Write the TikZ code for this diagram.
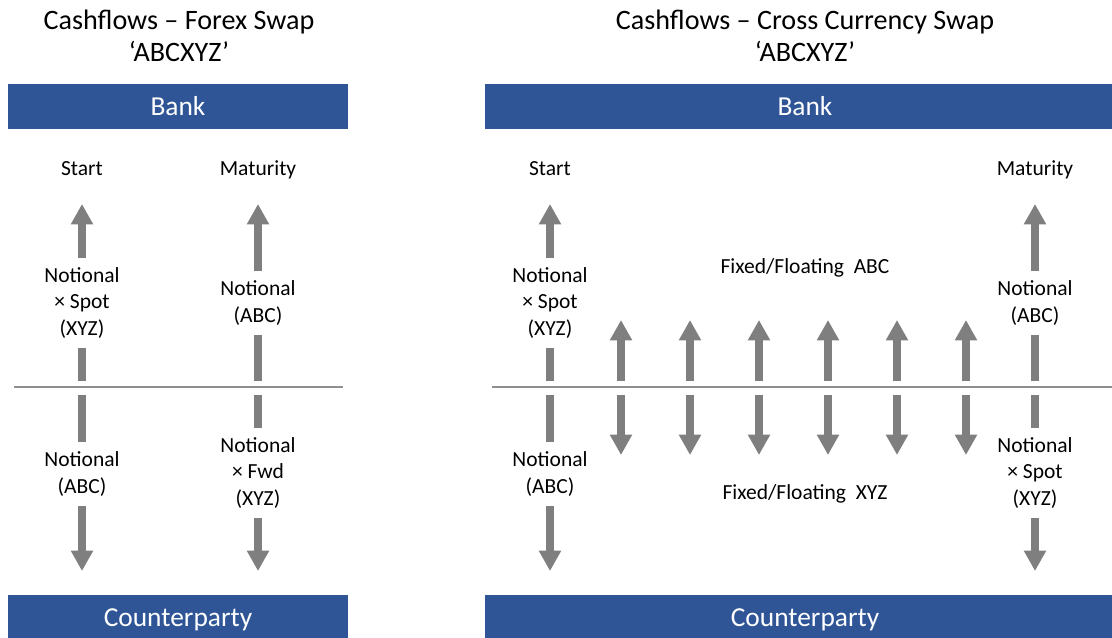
\documentclass[tikz,border=0pt]{standalone}
\usepackage{fontspec}
\setmainfont{Carlito}
\usetikzlibrary{arrows.meta}

\definecolor{barblue}{HTML}{2F5597}
\definecolor{flowgray}{HTML}{7F7F7F}
\definecolor{axisgray}{HTML}{8F8F8F}

\tikzset{
  bartext/.style={text=white, font=\fontsize{19.5}{23}\selectfont},
  title/.style={align=center, font=\fontsize{20}{22.8}\selectfont},
  lbl/.style={align=center, inner xsep=0pt, inner ysep=6.5pt, font=\fontsize{15.3}{18.8}\selectfont},
  datelbl/.style={lbl, anchor=base},
  axis/.style={axisgray, line width=1.4pt},
  shaft/.style={flowgray, line width=5pt},
  flow/.style={shaft, -{Triangle[length=14.5pt, width=15pt]}},
}

\begin{document}
\begin{tikzpicture}[x=0.025cm, y=-0.025cm]

  \useasboundingbox (0,0) rectangle (1112,638);

  % ---- forex swap ----
  \node[title] (titleL) at (179,36) {Cashflows – Forex Swap\\‘ABCXYZ’};

  \fill[barblue] (8,84) rectangle (348,129);
  \fill[barblue] (8,595) rectangle (348,638);
  \node[bartext] (bankL) at (178,106) {Bank};
  \node[bartext] (cptyL) at (178,620) {Counterparty};

  \draw[axis] (14,387) -- (343,387);

  \node[datelbl] (startL) at (82,175) {Start};
  \node[datelbl] (matL) at (258,175) {Maturity};

  % start: up to the bank, down to the counterparty
  \coordinate (sLu) at (82,381);  \coordinate (sLut) at (82,204);
  \coordinate (sLd) at (82,395);  \coordinate (sLdt) at (82,571);
  \node[lbl] (sLup) at (82,303) {Notional\\× Spot\\(XYZ)};
  \node[lbl] (sLdn) at (82,474) {Notional\\(ABC)};
  \draw[shaft] (sLu) -- (sLup);
  \draw[flow] (sLup) -- (sLut);
  \draw[shaft] (sLd) -- (sLdn);
  \draw[flow] (sLdn) -- (sLdt);

  % maturity
  \coordinate (mLu) at (258,381);  \coordinate (mLut) at (258,204);
  \coordinate (mLd) at (258,395);  \coordinate (mLdt) at (258,571);
  \node[lbl] (mLup) at (258,303) {Notional\\(ABC)};
  \node[lbl] (mLdn) at (258,473) {Notional\\× Fwd\\(XYZ)};
  \draw[shaft] (mLu) -- (mLup);
  \draw[flow] (mLup) -- (mLut);
  \draw[shaft] (mLd) -- (mLdn);
  \draw[flow] (mLdn) -- (mLdt);

  % ---- cross currency swap ----
  \node[title] (titleR) at (805,36) {Cashflows – Cross Currency Swap\\‘ABCXYZ’};

  \fill[barblue] (485,84) rectangle (1112,129);
  \fill[barblue] (485,595) rectangle (1112,638);
  \node[bartext] (bankR) at (805,106) {Bank};
  \node[bartext] (cptyR) at (805,620) {Counterparty};

  \draw[axis] (492,387) -- (1112,387);

  \node[datelbl] (startR) at (550,175) {Start};
  \node[datelbl] (matR) at (1035,175) {Maturity};

  \coordinate (sRu) at (550,381);  \coordinate (sRut) at (550,204);
  \coordinate (sRd) at (550,395);  \coordinate (sRdt) at (550,571);
  \node[lbl] (sRup) at (550,303) {Notional\\× Spot\\(XYZ)};
  \node[lbl] (sRdn) at (550,474) {Notional\\(ABC)};
  \draw[shaft] (sRu) -- (sRup);
  \draw[flow] (sRup) -- (sRut);
  \draw[shaft] (sRd) -- (sRdn);
  \draw[flow] (sRdn) -- (sRdt);

  \coordinate (mRu) at (1035,381);  \coordinate (mRut) at (1035,204);
  \coordinate (mRd) at (1035,395);  \coordinate (mRdt) at (1035,571);
  \node[lbl] (mRup) at (1035,303) {Notional\\(ABC)};
  \node[lbl] (mRdn) at (1035,473) {Notional\\× Spot\\(XYZ)};
  \draw[shaft] (mRu) -- (mRup);
  \draw[flow] (mRup) -- (mRut);
  \draw[shaft] (mRd) -- (mRdn);
  \draw[flow] (mRdn) -- (mRdt);

  % coupons in between
  \node[lbl] (fixABC) at (805,268) {Fixed/Floating~~ABC};
  \node[lbl] (fixXYZ) at (805,494) {Fixed/Floating~~XYZ};

  \foreach \x [count=\i] in {621,690,759,828,897,966} {
    \coordinate (cu\i) at (\x,381);  \coordinate (cut\i) at (\x,320);
    \coordinate (cd\i) at (\x,395);  \coordinate (cdt\i) at (\x,455);
    \draw[flow] (cu\i) -- (cut\i);
    \draw[flow] (cd\i) -- (cdt\i);
  }

\end{tikzpicture}
\end{document}
